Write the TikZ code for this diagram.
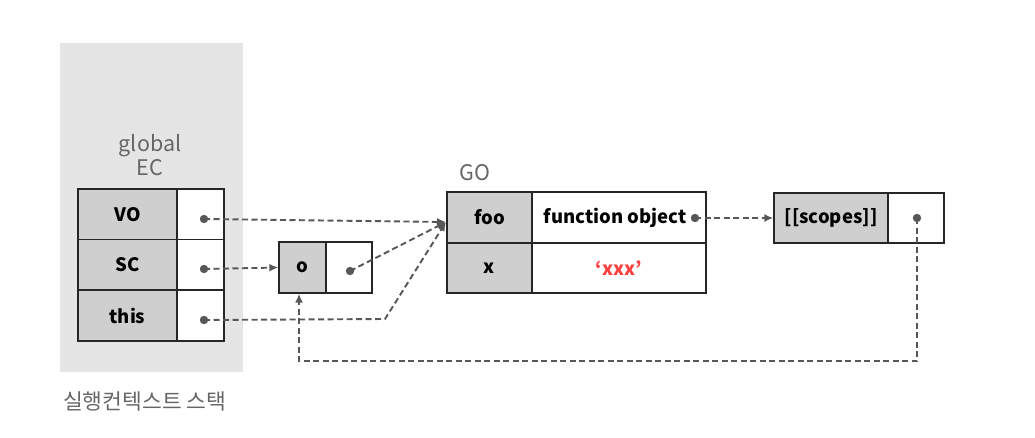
\documentclass[tikz,border=0pt]{standalone}
\usepackage{fontspec}
\setmainfont{Noto Sans CJK KR}
\usetikzlibrary{arrows.meta}

\begin{document}
\begin{tikzpicture}
          [x = 1pt, y = -1pt,
           every node/.style = {inner sep = 0pt, font = \fontsize{18.5}{22}\selectfont\bfseries},
           keycell/.style = {draw = cellcolor, line width = 1.3pt, fill = keycolor, minimum height = 51},
           valcell/.style = {draw = cellcolor, line width = 1.3pt, fill = white, minimum height = 51},
           caption/.style = {text = labelcolor, align = center, font = \fontsize{21.5}{24}\selectfont},
           ref/.style = {draw = linecolor, line width = 1.9pt, dash pattern = on 6pt off 3.5pt,
                         -{Latex[length = 9pt, width = 8pt]}},
           dot/.style = {fill = linecolor}]

% Define colors
\colorlet{stackcolor}{black!10}
\colorlet{keycolor}{black!19}
\colorlet{cellcolor}{black!85}
\colorlet{linecolor}{black!66}
\colorlet{labelcolor}{black!60}
\colorlet{strcolor}{red!75!white}

\useasboundingbox (0,0) rectangle (1035,437);

% Execution context stack
  \fill [stackcolor] (60,43) rectangle (243,372);
  \node [caption] (gec) at (150,155) {global\\EC};
  \node [keycell, minimum width = 99] (vo)    at (127.5,214.5) {VO};
  \node [valcell, minimum width = 47] (vov)   at (200.5,214.5) {};
  \node [keycell, minimum width = 99] (sc)    at (127.5,265)   {SC};
  \node [valcell, minimum width = 47] (scv)   at (200.5,265)   {};
  \node [keycell, minimum width = 99] (this)  at (127.5,315.5) {this};
  \node [valcell, minimum width = 47] (thisv) at (200.5,315.5) {};
  \node [caption, anchor = west] (stack) at (63,401) {실행컨텍스트 스택};

% Object o
  \node [keycell, minimum width = 47] (o)  at (302.5,267.5) {o};
  \node [valcell, minimum width = 46] (ov) at (349,267.5)   {};

% Global object
  \node [caption, anchor = west] (go) at (459,173) {GO};
  \node [keycell, minimum width = 85, minimum height = 51]  (foo)  at (489.5,217.5) {foo};
  \node [valcell, minimum width = 174, minimum height = 51] (foov) at (619,217.5)   {\hspace*{-8pt}function object};
  \node [keycell, minimum width = 85, minimum height = 50]  (x)    at (489.5,268)   {x};
  \node [valcell, minimum width = 174, minimum height = 50] (xv)   at (619,268)     {\textcolor{strcolor}{‘xxx’}};

% Scopes
  \node [keycell, minimum width = 114, minimum height = 50] (scopes)  at (831,218) {[[scopes]]};
  \node [valcell, minimum width = 56, minimum height = 50]  (scopesv) at (916,218) {};

% Pointer dots
  \coordinate (vodot)     at (204,219);
  \coordinate (scdot)     at (204,269);
  \coordinate (thisdot)   at (204,320);
  \coordinate (odot)      at (350,271);
  \coordinate (fndot)     at (695,218);
  \coordinate (scopesdot) at (917,218);
  \coordinate (thisbend)  at (385,319);
  \coordinate (loopbend)  at (917,361);
  \coordinate (fooin)     at (446,222);

% Connections
  \draw [ref] (vodot)     -- (fooin);
  \draw [ref] (scdot)     -- (o.west);
  \draw [ref] (odot)      -- (fooin);
  \draw [ref] (thisdot)   -- (thisbend) -- (fooin);
  \draw [ref] (fndot)     -- (scopes.west);
  \draw [ref] (scopesdot) -- (loopbend) -| ([xshift = -3.5pt]o.south);

  \foreach \d in {vodot, scdot, thisdot, odot, fndot, scopesdot}
    \fill [dot] (\d) circle (4.2);

\end{tikzpicture}
\end{document}
